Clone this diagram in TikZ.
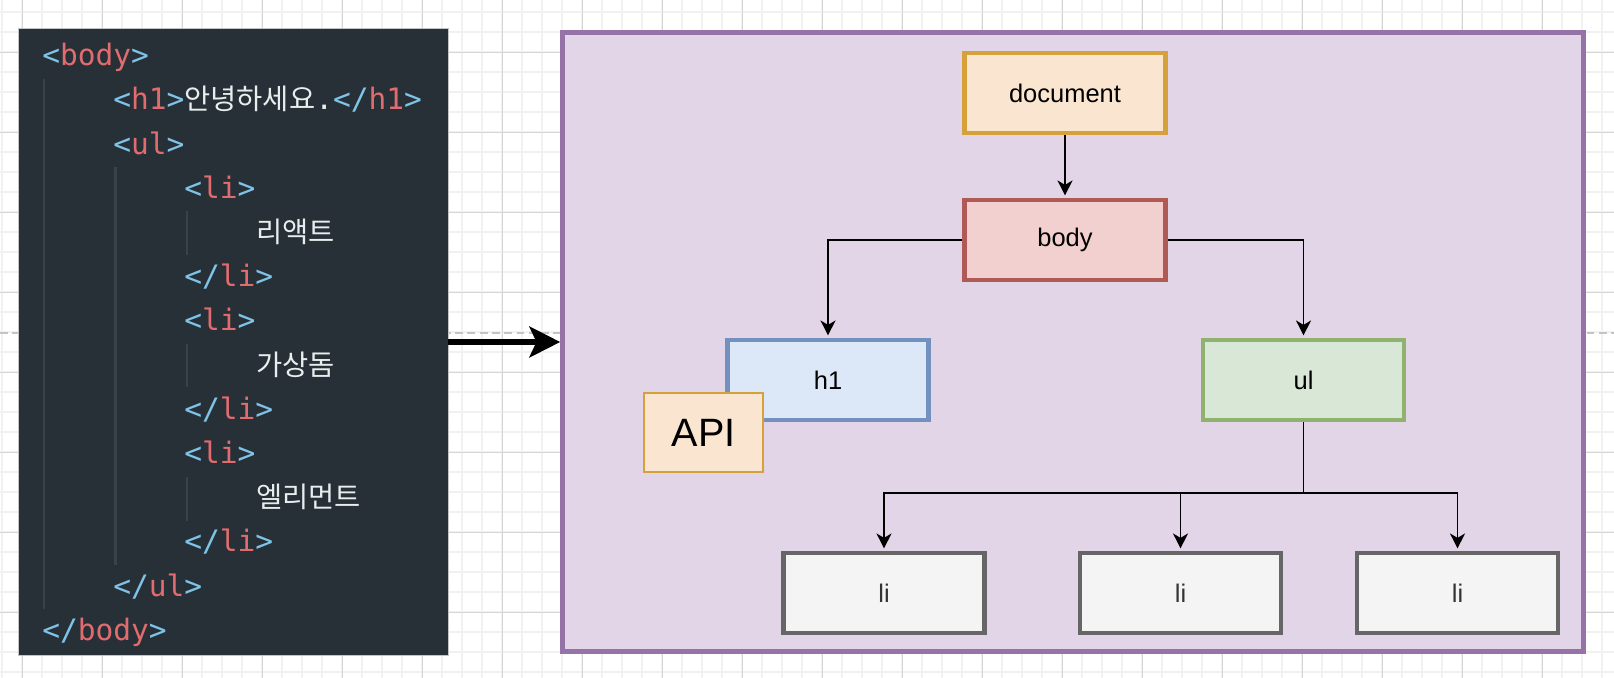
\documentclass[tikz,border=0pt]{standalone}
\usepackage{fontspec}
\setmainfont{Liberation Sans}
\newfontfamily\codefont{DejaVu Sans Mono}
\newfontfamily\kofont{Noto Sans CJK KR}
\usepackage{xcolor}
\usepackage{tikz}
\usetikzlibrary{positioning}
\usetikzlibrary{arrows.meta}

\definecolor{gridminor}{HTML}{F1F1F1}
\definecolor{gridmajor}{HTML}{D6D6D6}
\definecolor{guidegray}{HTML}{C4C4C4}
\definecolor{codebg}{HTML}{283037}
\definecolor{codeindent}{HTML}{37424A}
\definecolor{tagbrack}{HTML}{7FC4E8}
\definecolor{tagname}{HTML}{E06C70}
\definecolor{plaintext}{HTML}{E8EEEE}
\definecolor{domfill}{HTML}{E1D5E7}
\definecolor{domdraw}{HTML}{9673A6}
\definecolor{docfill}{HTML}{FAE6D0}
\definecolor{docdraw}{HTML}{D6A03A}
\definecolor{bodyfill}{HTML}{F2D0CF}
\definecolor{bodydraw}{HTML}{B05A55}
\definecolor{hfill}{HTML}{DCE7F8}
\definecolor{hdraw}{HTML}{7391BF}
\definecolor{ulfill}{HTML}{D9E7D6}
\definecolor{uldraw}{HTML}{8FB36E}
\definecolor{lifill}{HTML}{F4F4F4}
\definecolor{lidraw}{HTML}{666666}
\definecolor{litext}{HTML}{333333}

% tags of the code listing
\newcommand{\opentag}[1]{\textcolor{tagbrack}{<}\textcolor{tagname}{#1}\textcolor{tagbrack}{>}}
\newcommand{\closetag}[1]{\textcolor{tagbrack}{</}\textcolor{tagname}{#1}\textcolor{tagbrack}{>}}
\newcommand{\kotext}[1]{{\kofont\fontsize{16.2pt}{19pt}\selectfont #1}}

\begin{document}
\begin{tikzpicture}[x=0.02cm, y=-0.02cm,
	box/.style={draw, line width=2.8pt, minimum width=4.02cm, minimum height=1.6cm, inner sep=0pt, font=\fontsize{14.5pt}{17pt}\selectfont},
	link/.style={line width=1.1pt, shorten >=1.2pt, -{Stealth[length=8.5pt, width=8.5pt, inset=2.5pt]}},
	code/.style={anchor=base west, inner sep=0pt, text=plaintext, font=\codefont\fontsize{16.8pt}{20pt}\selectfont},
	indent/.style={codeindent, line width=1.2pt}
	]
	
	\useasboundingbox (0,0) rectangle (1614,678);
	
	% background grid
	\fill[white] (0,0) rectangle (1614,678);
	\foreach \gx in {2,22,...,1602} \draw[gridminor, line width=0.9pt] (\gx,0) -- (\gx,678);
	\foreach \gy in {12,32,...,672} \draw[gridminor, line width=0.9pt] (0,\gy) -- (1614,\gy);
	\foreach \gx in {22,102,...,1582} \draw[gridmajor, line width=0.5pt] (\gx,0) -- (\gx,678);
	\foreach \gy in {52,132,...,612} \draw[gridmajor, line width=0.5pt] (0,\gy) -- (1614,\gy);
	
	\coordinate (GuideL) at (0,333);
	\coordinate (GuideR) at (1614,333);
	\draw[guidegray, line width=1.1pt, dash pattern=on 4.5pt off 2.5pt] (GuideL) -- (GuideR);
	
	%%%%%%%%%%%%%%%%%%%%%%%%%%%%%%%%%%%%%%%%%%%%%%%%%%%%%%%%%%%%%%
	% code listing on the left
	\node[fill=codebg, draw=guidegray, line width=0.5pt, minimum width=8.6cm, minimum height=12.54cm, inner sep=0pt] (Code) at (233,342) {};
	
	\draw[indent] (44,79) -- (44,609);
	\draw[indent] (115.5,167) -- (115.5,565);
	\draw[indent] (187,211) -- (187,255);
	\draw[indent] (187,344) -- (187,387);
	\draw[indent] (187,477) -- (187,521);
	
	\node[code] (L0)  at (42,65.7)   {\opentag{body}};
	\node[code] (L1)  at (113,109.9) {\opentag{h1}\kotext{안녕하세요}.\closetag{h1}};
	\node[code] (L2)  at (113,154.1) {\opentag{ul}};
	\node[code] (L3)  at (184,198.3) {\opentag{li}};
	\node[code] (L4)  at (256,242.5) {\kotext{리액트}};
	\node[code] (L5)  at (184,286.7) {\closetag{li}};
	\node[code] (L6)  at (184,330.9) {\opentag{li}};
	\node[code] (L7)  at (256,375.1) {\kotext{가상돔}};
	\node[code] (L8)  at (184,419.3) {\closetag{li}};
	\node[code] (L9)  at (184,463.5) {\opentag{li}};
	\node[code] (L10) at (256,507.7) {\kotext{엘리먼트}};
	\node[code] (L11) at (184,551.9) {\closetag{li}};
	\node[code] (L12) at (113,596.1) {\closetag{ul}};
	\node[code] (L13) at (42,640.3)  {\closetag{body}};
	
	%%%%%%%%%%%%%%%%%%%%%%%%%%%%%%%%%%%%%%%%%%%%%%%%%%%%%%%%%%%%%%
	% DOM tree on the right
	\node[fill=domfill, draw=domdraw, line width=3pt, minimum width=20.41cm, minimum height=12.39cm, inner sep=0pt] (DOM) at (1073,342) {};
	
	\draw[line width=3.4pt, -{Stealth[length=17.5pt, width=17.5pt, inset=4pt]}] (Code.east) -- (DOM.west);
	
	\node[box, fill=docfill, draw=docdraw] (Doc) at (1065,93) {document};
	\node[box, fill=bodyfill, draw=bodydraw] (Body) at (1065,240) {body};
	\node[box, fill=hfill, draw=hdraw] (H1) at (828,380) {h1};
	\node[box, fill=ulfill, draw=uldraw] (UL) at (1303.5,380) {ul};
	\node[box, fill=lifill, draw=lidraw, text=litext] (LI1) at (884,593) {li};
	\node[box, fill=lifill, draw=lidraw, text=litext] (LI2) at (1180.5,593) {li};
	\node[box, fill=lifill, draw=lidraw, text=litext] (LI3) at (1457.5,593) {li};
	
	% sits over the corner of h1
	\node[fill=docfill, draw=docdraw, line width=1.1pt, minimum width=2.38cm, minimum height=1.58cm, inner sep=0pt, font=\fontsize{22.5pt}{27pt}\selectfont] (API) at (703.5,432.5) {API};
	
	\coordinate (Split) at (1303.5,493);
	
	\draw[link] (Doc) -- (Body);
	\draw[link] (Body.west) -| (H1.north);
	\draw[link] (Body.east) -| (UL.north);
	\draw[link] (UL.south) -- (Split) -| (LI1.north);
	\draw[link] (UL.south) -- (Split) -| (LI2.north);
	\draw[link] (UL.south) -- (Split) -| (LI3.north);
	
\end{tikzpicture}
\end{document}
